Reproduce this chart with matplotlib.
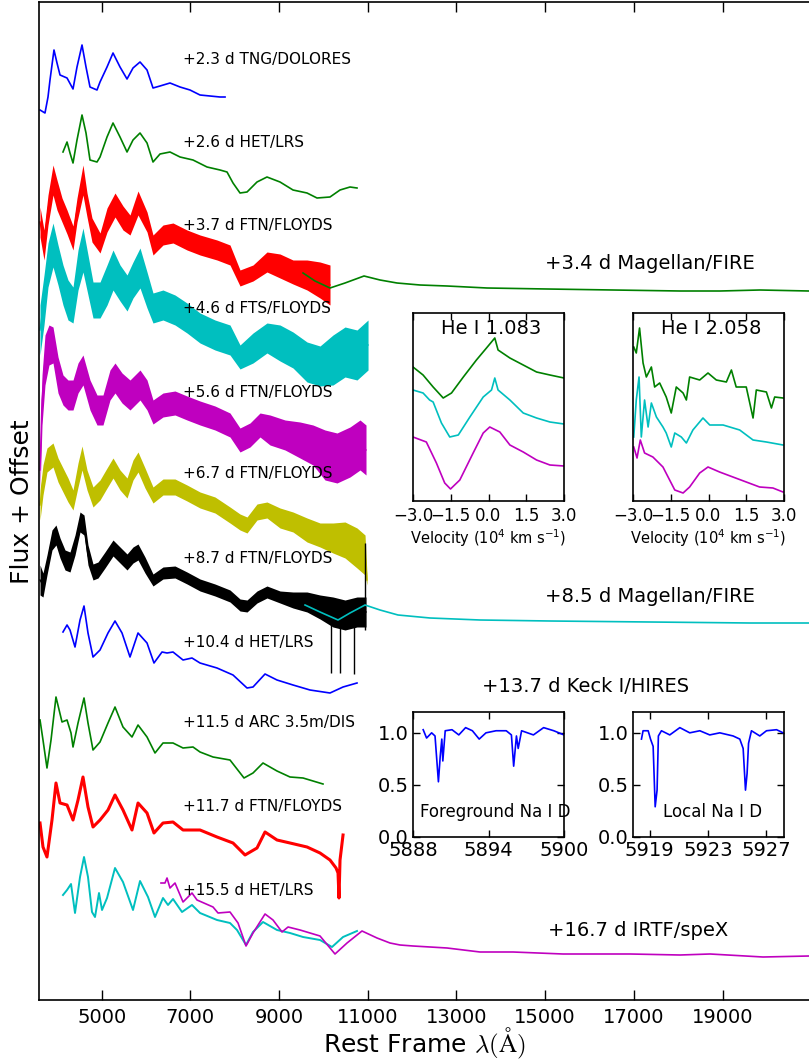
import matplotlib
matplotlib.use("Agg")
import matplotlib.pyplot as plt
from matplotlib.ticker import ScalarFormatter

# ---------------- main panel: spectra (wavelength in A, flux in arbitrary units) ----------------
# +2.3 d TNG/DOLORES
wl_a = [3609, 3721, 3789, 3834, 3924, 3992, 4060, 4218, 4353, 4443, 4556, 4646, 4736, 4894, 4962, 5120,
        5255, 5413, 5571, 5706, 5864, 6022, 6157, 6315, 6540, 6766, 6991, 7217, 7442, 7668, 7781]
fl_a = [10, 7, 23, 40, 70, 57, 45, 42, 31, 53, 75, 53, 33, 30, 38, 53,
        67, 53, 41, 52, 58, 50, 32, 34, 37, 33, 30, 25, 24, 23, 23]

# +2.6 d HET/LRS
wl_b = [4127, 4218, 4285, 4353, 4443, 4556, 4646, 4736, 4894, 4962, 5120, 5255, 5413, 5571, 5706, 5864,
        6022, 6157, 6315, 6540, 6766, 7059, 7375, 7668, 7826, 7961, 8119, 8277, 8502, 8727, 9021, 9314,
        9630, 9855, 10148, 10374, 10599, 10757]
fl_b = [48, 58, 47, 37, 60, 85, 67, 40, 38, 43, 63, 77, 63, 48, 60, 67,
        57, 38, 46, 48, 43, 40, 33, 30, 28, 17, 7, 8, 18, 23, 18, 10,
        7, 2, 3, 10, 13, 12]

# +3.7 d FTN/FLOYDS
wl_c = [3609, 3699, 3789, 3902, 3992, 4105, 4218, 4353, 4443, 4578, 4669, 4781, 4962, 5120, 5300, 5480,
        5638, 5819, 6022, 6157, 6382, 6608, 6924, 7217, 7600, 7893, 8119, 8412, 8727, 9021, 9314, 9630,
        9923, 10148]
fl_c = [58, 35, 70, 100, 85, 70, 58, 42, 70, 100, 75, 50, 37, 60, 75, 62,
        55, 77, 58, 35, 45, 47, 40, 35, 30, 25, 2, 7, 18, 14, 8, 5,
        0, -5]
nz_c = [15, 15, 15, 15, 15, 12, 12, 12, 12, 15, 12, 12, 10, 12, 12, 12,
        10, 12, 10, 10, 10, 10, 10, 10, 10, 10, 8, 8, 10, 12, 12, 15,
        18, 20]

# +3.4 d Magellan/FIRE
wl_d = [9540, 9810, 10148, 10487, 10915, 11276, 11659, 12178, 12787, 13689, 15042, 16530, 18041, 18943,
        19845, 20950, 21626]
fl_d = [27, 19, 12, 17, 24, 20, 17, 15, 14, 12, 11, 10, 9, 9, 10, 9, 9]

# +4.6 d FTS/FLOYDS
wl_e = [3609, 3699, 3789, 3902, 4015, 4127, 4240, 4353, 4466, 4578, 4691, 4804, 4962, 5120, 5255, 5413,
        5571, 5706, 5864, 6022, 6157, 6382, 6653, 6924, 7217, 7555, 7893, 8119, 8412, 8727, 9021, 9314,
        9630, 9923, 10216, 10487, 10757, 11006]
fl_e = [50, 80, 115, 135, 115, 95, 80, 75, 110, 130, 105, 80, 80, 95, 110, 97,
        87, 100, 112, 90, 72, 75, 70, 62, 52, 45, 40, 23, 32, 42, 37, 30,
        18, 14, 20, 28, 25, 35]
nz_e = [25, 25, 22, 22, 20, 20, 20, 18, 20, 22, 20, 18, 18, 20, 20, 18,
        18, 18, 20, 18, 15, 15, 15, 15, 15, 15, 15, 12, 15, 15, 18, 18,
        20, 20, 25, 25, 25, 25]

# +5.6 d FTN/FLOYDS
wl_f = [3609, 3654, 3721, 3811, 3902, 4015, 4127, 4240, 4353, 4466, 4578, 4736, 4894, 5029, 5187, 5300,
        5458, 5638, 5864, 6022, 6157, 6382, 6653, 6924, 7217, 7555, 7893, 8119, 8344, 8570, 8795, 9134,
        9472, 9765, 10035, 10306, 10599, 10825, 10960]
fl_f = [10, 80, 120, 135, 135, 105, 90, 85, 85, 102, 110, 85, 70, 70, 95, 102,
        92, 85, 95, 85, 68, 75, 77, 72, 67, 62, 55, 40, 45, 55, 50, 45,
        40, 35, 25, 22, 28, 35, 30]
nz_f = [20, 25, 25, 20, 18, 18, 15, 15, 15, 15, 15, 15, 15, 15, 15, 15,
        15, 15, 15, 15, 12, 12, 12, 12, 12, 12, 12, 12, 12, 12, 15, 15,
        18, 20, 25, 25, 25, 25, 25]

# +6.7 d FTN/FLOYDS
wl_g = [3609, 3676, 3766, 3902, 4015, 4127, 4240, 4353, 4466, 4556, 4669, 4804, 4962, 5120, 5255, 5413,
        5571, 5706, 5819, 5976, 6157, 6382, 6653, 6924, 7217, 7555, 7893, 8119, 8277, 8502, 8727, 9021,
        9314, 9630, 9923, 10216, 10487, 10757, 10938, 10983]
fl_g = [55, 80, 100, 105, 90, 80, 70, 60, 85, 102, 80, 63, 70, 82, 92, 80,
        72, 90, 98, 82, 65, 73, 73, 67, 60, 55, 45, 38, 35, 48, 50, 42,
        38, 30, 25, 22, 20, 12, 5, -20]
nz_g = [15, 15, 12, 12, 12, 12, 12, 10, 12, 12, 10, 10, 10, 10, 10, 10,
        10, 10, 10, 10, 8, 8, 8, 8, 8, 8, 8, 8, 8, 8, 8, 10,
        10, 12, 12, 15, 18, 20, 20, 5]

# +8.7 d FTN/FLOYDS
wl_h = [3609, 3676, 3766, 3879, 3969, 4060, 4173, 4285, 4398, 4511, 4601, 4691, 4804, 4917, 5074, 5255,
        5413, 5571, 5706, 5819, 5976, 6157, 6382, 6653, 6924, 7217, 7555, 7893, 8119, 8277, 8502, 8727,
        9021, 9314, 9630, 9923, 10216, 10487, 10757, 10960]
fl_h = [60, 55, 75, 100, 105, 92, 80, 78, 95, 118, 115, 85, 68, 70, 80, 92,
        85, 78, 85, 88, 75, 60, 67, 68, 62, 55, 50, 44, 35, 34, 43, 48,
        43, 40, 38, 33, 28, 25, 28, 28]
nz_h = [15, 12, 10, 10, 10, 10, 10, 10, 10, 10, 10, 10, 8, 8, 8, 8,
        8, 8, 8, 8, 8, 6, 6, 6, 6, 6, 6, 6, 6, 6, 6, 6,
        6, 8, 10, 12, 15, 15, 15, 15]
# a few strong spikes near the red end of the +8.7 d spectrum
spk_wl = [10171, 10374, 10689, 10938]
spk_lo = [-33, -33, -34, 10]
spk_hi = [40, 40, 40, 97]

# +8.5 d Magellan/FIRE
wl_i = [9585, 9923, 10329, 10599, 10938, 11276, 11682, 12404, 13531, 15110, 17365, 19620, 20950, 21626]
fl_i = [45, 38, 30, 37, 45, 40, 35, 32, 30, 29, 28, 27, 27, 27]

# +10.4 d HET/LRS
wl_j = [4127, 4218, 4285, 4398, 4511, 4601, 4691, 4804, 4962, 5142, 5300, 5458, 5638, 5819, 6022, 6179,
        6360, 6473, 6608, 6834, 7036, 7217, 7600, 7961, 8277, 8412, 8683, 8953, 9314, 9697, 10148, 10442,
        10757]
fl_j = [68, 75, 70, 53, 80, 94, 67, 43, 50, 67, 79, 67, 43, 67, 57, 37,
        48, 47, 48, 40, 42, 37, 32, 25, 12, 13, 26, 20, 15, 10, 7, 13,
        17]

# +11.5 d ARC 3.5m/DIS
wl_k = [3609, 3676, 3766, 3857, 3969, 4105, 4218, 4308, 4353, 4466, 4601, 4691, 4804, 4962, 5142, 5300,
        5480, 5683, 5819, 6022, 6202, 6382, 6608, 6834, 7059, 7217, 7510, 7893, 8209, 8412, 8637, 8953,
        9246, 9540, 9990]
fl_k = [80, 60, 32, 60, 103, 78, 80, 67, 53, 77, 102, 77, 50, 58, 77, 93,
        73, 63, 75, 63, 47, 57, 57, 52, 53, 48, 43, 40, 22, 27, 37, 29,
        23, 22, 16]

# +11.7 d FTN/FLOYDS
wl_l = [3609, 3676, 3766, 3879, 3969, 4060, 4218, 4353, 4466, 4578, 4691, 4804, 4962, 5142, 5300, 5480,
        5683, 5819, 6022, 6179, 6382, 6608, 6834, 7217, 7600, 7961, 8232, 8502, 8683, 8953, 9246, 9630,
        9923, 10148, 10284, 10329, 10351, 10374, 10442]
fl_l = [77, 53, 43, 80, 117, 97, 95, 80, 100, 123, 93, 73, 80, 90, 105, 90,
        70, 97, 87, 67, 77, 78, 70, 70, 63, 57, 45, 52, 68, 60, 57, 53,
        47, 40, 32, 27, 2, 40, 65]

# +15.5 d HET/LRS
wl_m = [4127, 4218, 4308, 4398, 4511, 4601, 4691, 4781, 4849, 4939, 5007, 5120, 5300, 5480, 5706, 5864,
        6044, 6202, 6382, 6495, 6608, 6811, 7036, 7217, 7600, 7893, 8051, 8254, 8412, 8637, 8953, 9246,
        9540, 9923, 10193, 10442, 10757]
fl_m = [105, 110, 116, 87, 123, 143, 123, 88, 83, 107, 90, 102, 132, 118, 90, 119,
        103, 83, 102, 95, 101, 88, 95, 87, 80, 77, 70, 55, 68, 78, 70, 67,
        63, 60, 53, 63, 69]

# +16.7 d IRTF/speX
wl_n = [6337, 6427, 6473, 6540, 6653, 6834, 7036, 7149, 7510, 7623, 7893, 8074, 8254, 8412, 8683, 8863,
        9066, 9202, 9472, 9923, 10261, 10532, 10870, 11208, 11501, 11727, 12020, 12787, 13531, 14275,
        15403, 16914, 18041, 18718, 19913, 20950, 21626]
fl_n = [117, 117, 122, 112, 117, 98, 107, 100, 93, 87, 88, 77, 54, 67, 86, 80,
        68, 73, 70, 64, 46, 57, 69, 62, 57, 55, 54, 52, 48, 48,
        46, 46, 45, 46, 43, 44, 44]

offsets = {"a": 880, "b": 800, "c": 720, "d": 700, "e": 620, "f": 520, "g": 440, "h": 360,
           "i": 350, "j": 300, "k": 200, "l": 100, "m": 0, "n": 0}

labels_small = ["+2.3 d TNG/DOLORES", "+2.6 d HET/LRS", "+3.7 d FTN/FLOYDS", "+4.6 d FTS/FLOYDS",
                "+5.6 d FTN/FLOYDS", "+6.7 d FTN/FLOYDS", "+8.7 d FTN/FLOYDS", "+10.4 d HET/LRS",
                "+11.5 d ARC 3.5m/DIS", "+11.7 d FTN/FLOYDS", "+15.5 d HET/LRS"]
labels_small_y = [941, 858, 775, 692, 608, 527, 442, 358, 277, 193, 109]
labels_big = ["+3.4 d Magellan/FIRE", "+8.5 d Magellan/FIRE", "+13.7 d Keck I/HIRES", "+16.7 d IRTF/speX"]
labels_big_x = [14996, 14996, 13576, 15066]
labels_big_y = [737, 404, 313, 70]

# ---------------- He I insets (velocity in 1e4 km/s) ----------------
v_he1_g = [-3.0, -2.6, -2.2, -1.8, -1.47, -1.0, -0.48, -0.08, 0.25, 0.38, 0.85, 1.38, 1.91, 2.44, 3.0]
f_he1_g = [134, 126, 114, 103, 108, 124, 141, 153, 163, 151, 143, 136, 129, 126, 123]
v_he1_c = [-3.0, -2.6, -2.34, -2.2, -1.87, -1.54, -1.2, -0.74, -0.21, 0.12, 0.25, 0.38, 0.85, 1.38, 1.91, 2.44, 3.0]
f_he1_c = [111, 108, 101, 99, 78, 64, 66, 84, 104, 111, 123, 111, 101, 88, 83, 79, 77]
v_he1_m = [-3.0, -2.47, -2.07, -1.74, -1.51, -1.14, -0.61, -0.21, 0.05, 0.45, 0.85, 1.38, 1.91, 2.44, 3.0]
f_he1_m = [64, 59, 38, 18, 12, 21, 48, 68, 74, 69, 56, 49, 41, 36, 35]

v_he2_g = [-2.97, -2.87, -2.74, -2.6, -2.47, -2.27, -2.14, -1.94, -1.68, -1.48, -1.28, -1.01, -0.88, -0.75,
           -0.35, -0.02, 0.31, 0.71, 0.91, 1.1, 1.5, 1.77, 1.9, 2.3, 2.5, 2.63, 2.96]
f_he2_g = [154, 148, 173, 138, 124, 134, 114, 118, 104, 88, 114, 108, 101, 124,
           121, 128, 121, 119, 131, 114, 114, 83, 111, 109, 93, 104, 103]
v_he2_c = [-2.97, -2.87, -2.76, -2.67, -2.54, -2.4, -2.27, -2.07, -1.81, -1.68, -1.48, -1.34, -1.08, -0.88,
           -0.62, -0.22, 0.05, 0.58, 1.24, 1.77, 2.3, 2.96]
f_he2_c = [64, 101, 124, 64, 101, 74, 98, 84, 74, 68, 54, 68, 64, 58,
           71, 83, 76, 76, 71, 61, 59, 56]
v_he2_m = [-2.97, -2.84, -2.71, -2.54, -2.21, -1.81, -1.34, -1.01, -0.75, -0.35, -0.02, 0.44, 0.97, 1.5,
           2.03, 2.56, 2.96]
f_he2_m = [54, 43, 61, 48, 44, 34, 11, 8, 14, 28, 34, 29, 24, 19, 14, 13, 9]

# ---------------- Keck/HIRES Na I D insets ----------------
wl_fg = [5888.81, 5889.08, 5889.48, 5889.75, 5890.02, 5890.16, 5890.29, 5890.37, 5890.56, 5891.1, 5891.64,
         5892.18, 5892.72, 5893.26, 5893.8, 5894.6, 5895.41, 5895.82, 5896.0, 5896.22, 5896.36, 5896.63,
         5897.57, 5898.38, 5899.19, 5900.0]
fl_fg = [1.03, 0.95, 1.0, 0.97, 0.53, 0.77, 0.94, 0.73, 1.02, 1.03, 0.98,
         1.05, 1.02, 0.94, 1.0, 1.02, 1.02, 0.98, 0.68, 0.97, 0.85, 1.02,
         0.98, 1.05, 1.02, 0.98]
wl_loc = [5918.43, 5918.54, 5918.89, 5919.05, 5919.23, 5919.37, 5919.5, 5919.59, 5919.8, 5920.37, 5921.06,
          5921.74, 5922.43, 5923.11, 5923.8, 5924.71, 5925.17, 5925.4, 5925.56, 5925.67, 5925.77, 5925.97,
          5926.54, 5927.0, 5927.69, 5928.14]
fl_loc = [0.94, 1.02, 1.02, 0.94, 0.87, 0.29, 0.45, 0.97, 1.02, 0.98, 1.05,
          1.0, 1.02, 0.98, 1.0, 0.97, 0.94, 0.85, 0.45, 0.61, 0.9, 1.02,
          0.97, 1.02, 1.03, 1.0]

W, H = 809, 1063


def fig_box(x0, y0, x1, y1):
    # pixel box (top-left origin) -> figure fraction rect
    return [x0 / W, (H - y1) / H, (x1 - x0) / W, (y1 - y0) / H]


def spec(ax, wl, fl, off, color, nz=None, lw=1.2):
    y = [v + off for v in fl]
    if nz is not None:
        lo = [v - n for v, n in zip(y, nz)]
        hi = [v + n for v, n in zip(y, nz)]
        ax.fill_between(wl, lo, hi, color=color, lw=0)
    ax.plot(wl, y, color=color, lw=lw)


def style_inset(ax):
    for s in ax.spines.values():
        s.set_linewidth(1.2)
    ax.tick_params(direction="in", top=True, right=True, length=5, width=1)


fig = plt.figure(figsize=(W / 100, H / 100), dpi=100)
ax = fig.add_axes(fig_box(39, 2, 839, 1000))

spec(ax, wl_a, fl_a, offsets["a"], "b")
spec(ax, wl_b, fl_b, offsets["b"], "g")
spec(ax, wl_c, fl_c, offsets["c"], "r", nz_c, lw=1)
spec(ax, wl_e, fl_e, offsets["e"], "c", nz_e, lw=1)
spec(ax, wl_f, fl_f, offsets["f"], "m", nz_f, lw=1)
spec(ax, wl_g, fl_g, offsets["g"], "y", nz_g, lw=1)
spec(ax, wl_h, fl_h, offsets["h"], "k", nz_h, lw=1)
ax.vlines(spk_wl, [v + offsets["h"] for v in spk_lo], [v + offsets["h"] for v in spk_hi], color="k", lw=1)
spec(ax, wl_j, fl_j, offsets["j"], "b")
spec(ax, wl_k, fl_k, offsets["k"], "g")
spec(ax, wl_l, fl_l, offsets["l"], "r", lw=2.2)
spec(ax, wl_m, fl_m, offsets["m"], "c", lw=1.4)
spec(ax, wl_d, fl_d, offsets["d"], "g")
spec(ax, wl_i, fl_i, offsets["i"], "c")
spec(ax, wl_n, fl_n, offsets["n"], "m")

for t, yy in zip(labels_small, labels_small_y):
    ax.text(6833, yy, t, fontsize=11, va="center", ha="left")
for t, xx, yy in zip(labels_big, labels_big_x, labels_big_y):
    ax.text(xx, yy, t, fontsize=14, va="center", ha="left")

ax.set_xlim(3586, 21626)
ax.set_ylim(0, 998)
ax.set_xticks(range(5000, 19001, 2000))
ax.set_yticks([])
ax.tick_params(axis="x", direction="in", top=True, length=7, width=1, labelsize=14, pad=6)
for s in ax.spines.values():
    s.set_linewidth(1.2)

fig.text(22 / W, 0.528, "Flux + Offset", rotation=90, fontsize=18, ha="center", va="center")
fig.text(424 / W, 20 / H, r"Rest Frame $\lambda(\mathrm{\AA})$", fontsize=18, ha="center", va="center",
         math_fontfamily="cm")

# He I insets
for x0, title, sets in [(413, "He I 1.083", [(v_he1_g, f_he1_g, "g"), (v_he1_c, f_he1_c, "c"), (v_he1_m, f_he1_m, "m")]),
                        (633, "He I 2.058", [(v_he2_g, f_he2_g, "g"), (v_he2_c, f_he2_c, "c"), (v_he2_m, f_he2_m, "m")])]:
    ia = fig.add_axes(fig_box(x0, 313, x0 + 151, 501))
    for v, f, c in sets:
        ia.plot(v, f, color=c, lw=1.2)
    ia.set_xlim(-3, 3)
    ia.set_ylim(0, 188)
    ia.set_xticks([-3.0, -1.5, 0.0, 1.5, 3.0])
    ia.set_yticks([])
    style_inset(ia)
    ia.tick_params(labelsize=12, pad=4)
    ia.set_xlabel(r"Velocity ($10^4$ km s$^{-1}$)", fontsize=10.5, labelpad=2)
    ia.text(0.52, 0.92, title, transform=ia.transAxes, fontsize=14, ha="center", va="center")

# Keck insets
for x0, wl, fl, xl, xt, label, lx in [(413, wl_fg, fl_fg, (5888, 5900), [5888, 5894, 5900], "Foreground Na I D", 0.046),
                                       (633, wl_loc, fl_loc, (5917.85, 5928.2), [5919, 5923, 5927], "Local Na I D", 0.2)]:
    ka = fig.add_axes(fig_box(x0, 712, x0 + 151, 837))
    ka.plot(wl, fl, color="b", lw=1.2)
    ka.set_xlim(*xl)
    ka.set_ylim(0, 1.2)
    ka.set_xticks(xt)
    ka.set_yticks([0.0, 0.5, 1.0])
    ka.xaxis.set_major_formatter(ScalarFormatter(useOffset=False))
    style_inset(ka)
    ka.tick_params(labelsize=14, pad=3)
    ka.text(lx, 0.2, label, transform=ka.transAxes, fontsize=12, ha="left", va="center")

fig.savefig("out.png", dpi=100)
